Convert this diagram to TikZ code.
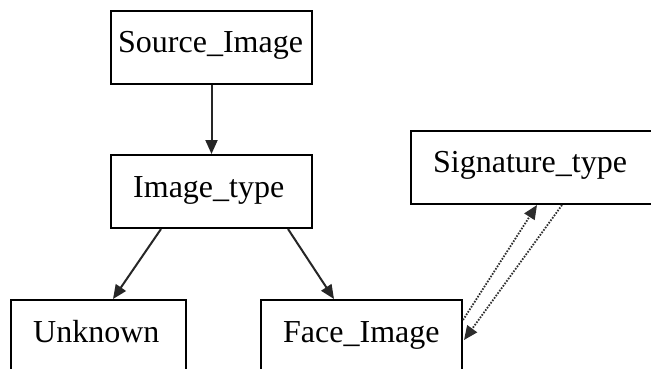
\documentclass[tikz,border=0pt]{standalone}
\usepackage{fontspec}
\setmainfont{Liberation Serif}
\usetikzlibrary{arrows.meta}
\begin{document}
\begin{tikzpicture}[x=1pt,y=-1pt,
  box/.style={draw, line width=2pt, inner sep=0pt, minimum height=73pt},
  lbl/.style={anchor=base west, inner sep=0pt, font=\fontsize{32}{36}\selectfont},
  link/.style={line width=2pt, black!85, -{Triangle[length=14pt,width=12pt]}},
  dotlink/.style={line width=1.8pt, gray!35!black, dash pattern=on 1.6pt off 1.4pt,
    -{Triangle[length=14pt,width=12pt]}}]
\useasboundingbox (0,0) rectangle (651,368);
\fill[white] (0,0) rectangle (651,368);
\clip (0,0) rectangle (651,368);

% boxes
\node[box, minimum width=201pt] (src) at (211.5,47) {};
\node[box, minimum width=201pt] (img) at (211.5,191.5) {};
\node[box, minimum width=175pt] (unk) at (98.5,336.5) {};
\node[box, minimum width=201pt] (face) at (361.5,336.5) {};
\node[box, minimum width=261pt] (sig) at (541.5,167.5) {};

% labels
\node[lbl] (srcT) at (118,52) {Source\_Image};
\node[lbl] (imgT) at (133,197) {Image\_type};
\node[lbl] (unkT) at (33,342) {Unknown};
\node[lbl] (faceT) at (283,342) {Face\_Image};
\node[lbl] (sigT) at (433,172.5) {Signature\_type};

% connectors
\draw[link] (src.south) -- (img.north);
\draw[link] ([xshift=-50.5pt]img.south) -- ([xshift=14.5pt]unk.north);
\draw[link] ([xshift=76.5pt]img.south) -- ([xshift=-27.5pt]face.north);
\draw[dotlink] ([yshift=16.5pt]face.east) -- ([xshift=-4.5pt]sig.south);
\draw[dotlink] ([xshift=20.5pt]sig.south) -- ([yshift=-3.5pt,xshift=1pt]face.east);
\end{tikzpicture}
\end{document}
